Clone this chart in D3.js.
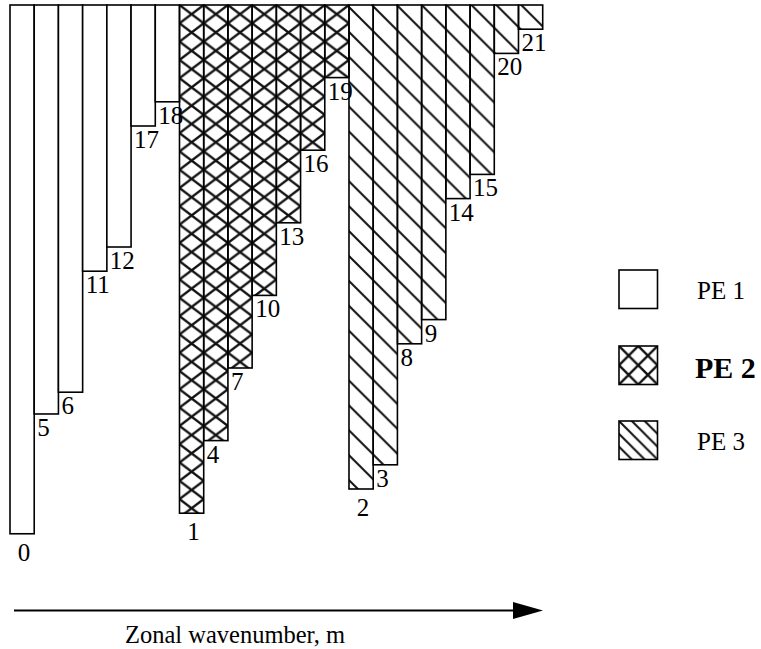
<!DOCTYPE html>
<html>
<head>
<meta charset="utf-8">
<script src="https://cdn.jsdelivr.net/npm/d3@7"></script>
<style>
  body { margin: 0; background: #fff; }
  svg { display: block; font-family: "Liberation Serif", "Times New Roman", serif; }
</style>
</head>
<body>
<svg id="chart"></svg>
<script>
// wavenumbers handled by each processor, in drawing order
const pe1Waves = [0, 5, 6, 11, 12, 17, 18];
const pe2Waves = [1, 4, 7, 10, 13, 16, 19];
const pe3Waves = [2, 3, 8, 9, 14, 15, 20, 21];
// bar length (in bar-width units)
const pe1Depth = [21.85, 16.9, 16.0, 11.0, 10.0, 5.0, 4.0];
const pe2Depth = [21.0, 18.0, 15.0, 12.0, 9.0, 6.0, 3.0];
const pe3Depth = [20.0, 19.0, 14.0, 13.0, 8.0, 7.0, 2.0, 1.0];
const groupNames = ["PE 1", "PE 2", "PE 3"];
const axisLabel = "Zonal wavenumber, m";

const width = 761, height = 649;

const svg = d3.select("#chart")
  .attr("width", width)
  .attr("height", height);

// bars table
const bars = [];
[[pe1Waves, pe1Depth], [pe2Waves, pe2Depth], [pe3Waves, pe3Depth]].forEach(([w, dp], g) => {
  w.forEach((m, i) => bars.push({ m: m, depth: dp[i], group: g, first: i === 0 }));
});

const x = d3.scaleBand()
  .domain(bars.map(d => d.m))
  .range([10, 542.7])
  .padding(0);
const bw = x.bandwidth();

const y = d3.scaleLinear()
  .domain([0, 22])
  .range([5, 5 + 22 * 24.2]);

// patterns
const defs = svg.append("defs");

// cross hatch for PE 2 (bars)
const cw = bw, ch = 18.3;
defs.append("pattern")
  .attr("id", "cross")
  .attr("patternUnits", "userSpaceOnUse")
  .attr("x", x(pe2Waves[0])).attr("y", y(0))
  .attr("width", cw).attr("height", ch)
  .append("path")
  .attr("d", `M${-4},${-4 * ch / cw}L${cw + 4},${ch + 4 * ch / cw}M${cw + 4},${-4 * ch / cw}L${-4},${ch + 4 * ch / cw}`)
  .attr("stroke", "#111").attr("stroke-width", 2.4).attr("fill", "none");

// diagonal hatch for PE 3 (bars)
const hp = 24.9;
defs.append("pattern")
  .attr("id", "hatch")
  .attr("patternUnits", "userSpaceOnUse")
  .attr("x", x(pe3Waves[0])).attr("y", y(0) + 2)
  .attr("width", hp).attr("height", hp)
  .append("path")
  .attr("d", `M-3,-3L${hp + 3},${hp + 3}M-3,${hp - 3}L3,${hp + 3}M${hp - 3},-3L${hp + 3},3`)
  .attr("stroke", "#111").attr("stroke-width", 2).attr("fill", "none");

// legend boxes
const legendX = 619, legendY = [270, 346, 421], box = 38.5;

defs.append("pattern")
  .attr("id", "crossLeg")
  .attr("patternUnits", "userSpaceOnUse")
  .attr("x", legendX).attr("y", legendY[1])
  .attr("width", box / 2).attr("height", box / 2)
  .append("path")
  .attr("d", `M-3,-3L${box / 2 + 3},${box / 2 + 3}M${box / 2 + 3},-3L-3,${box / 2 + 3}`)
  .attr("stroke", "#111").attr("stroke-width", 2.4).attr("fill", "none");

const lp = box / 3;
defs.append("pattern")
  .attr("id", "hatchLeg")
  .attr("patternUnits", "userSpaceOnUse")
  .attr("x", legendX).attr("y", legendY[2])
  .attr("width", lp).attr("height", lp)
  .append("path")
  .attr("d", `M-3,-3L${lp + 3},${lp + 3}M-3,${lp - 3}L3,${lp + 3}M${lp - 3},-3L${lp + 3},3`)
  .attr("stroke", "#111").attr("stroke-width", 2).attr("fill", "none");

const fills = ["#fff", "url(#cross)", "url(#hatch)"];
const legFills = ["#fff", "url(#crossLeg)", "url(#hatchLeg)"];

// bars hanging from the top
svg.selectAll(".bar")
  .data(bars)
  .enter()
  .append("rect")
  .attr("class", "bar")
  .attr("x", d => x(d.m))
  .attr("y", y(0))
  .attr("width", bw)
  .attr("height", d => y(d.depth) - y(0))
  .attr("fill", d => fills[d.group])
  .attr("stroke", "#000")
  .attr("stroke-width", 1.6);

// wavenumber labels under each bar
svg.selectAll(".lab")
  .data(bars)
  .enter()
  .append("text")
  .attr("class", "lab")
  .attr("x", d => d.first ? x(d.m) + bw / 2 + 2 : x(d.m) + 3)
  .attr("y", d => d.first ? y(d.depth) + 27 : y(d.depth) + 22)
  .attr("text-anchor", d => d.first ? "middle" : "start")
  .attr("font-size", 25)
  .text(d => d.m);

// arrow
const ay = 610.5;
svg.append("line")
  .attr("x1", 14).attr("x2", 514)
  .attr("y1", ay).attr("y2", ay)
  .attr("stroke", "#000").attr("stroke-width", 2);
svg.append("path")
  .attr("d", `M513,${ay - 8.5}L543,${ay}L513,${ay + 8.5}Z`)
  .attr("fill", "#000");

svg.append("text")
  .attr("x", 235)
  .attr("y", 643)
  .attr("text-anchor", "middle")
  .attr("font-size", 24.5)
  .text(axisLabel);

// legend
const leg = svg.selectAll(".leg")
  .data(groupNames)
  .enter()
  .append("g")
  .attr("class", "leg");

leg.append("rect")
  .attr("x", legendX)
  .attr("y", (d, i) => legendY[i])
  .attr("width", box)
  .attr("height", box)
  .attr("fill", (d, i) => legFills[i])
  .attr("stroke", "#000")
  .attr("stroke-width", 1.6);

leg.append("text")
  .attr("x", (d, i) => i === 1 ? 695 : 697)
  .attr("y", (d, i) => legendY[i] + (i === 1 ? 32 : 29))
  .attr("font-size", (d, i) => i === 1 ? 30 : 25)
  .attr("font-weight", (d, i) => i === 1 ? "bold" : "normal")
  .text(d => d);
</script>
</body>
</html>
